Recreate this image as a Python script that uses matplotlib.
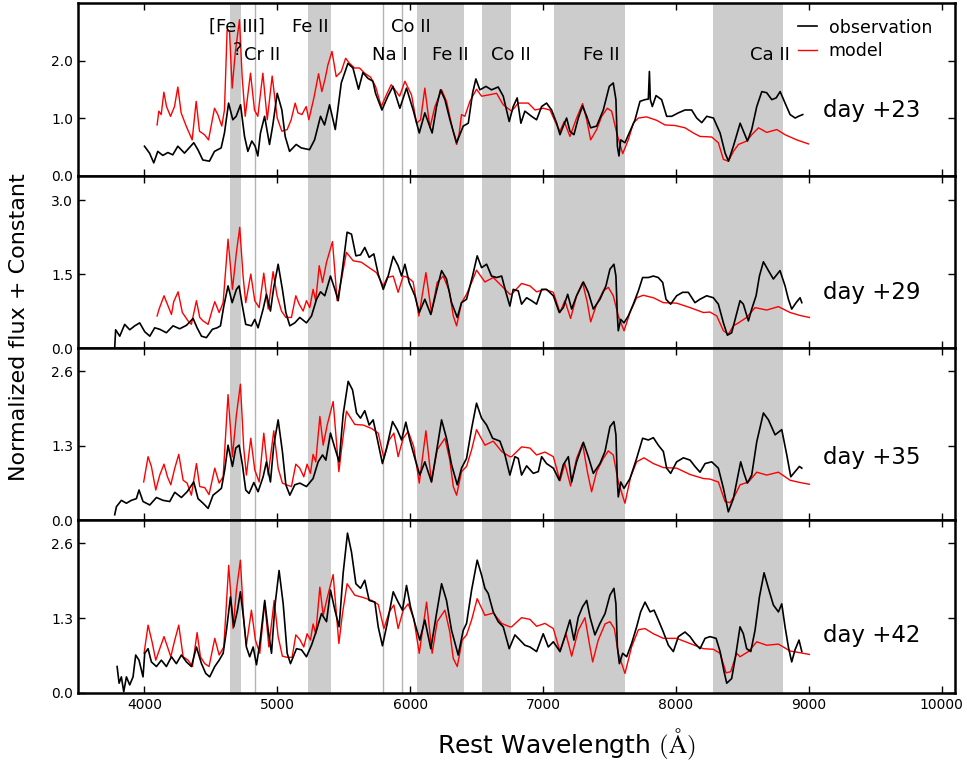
import numpy as np
import matplotlib.pyplot as plt

plt.rcParams['mathtext.fontset'] = 'cm'

# (wavelength [A], normalized flux) pairs for each epoch
obs23 = [(4000, 0.51), (4038, 0.39), (4070, 0.22), (4100, 0.42), (4138, 0.35), (4176, 0.40),
         (4213, 0.36), (4251, 0.51), (4301, 0.39), (4371, 0.57), (4402, 0.45), (4439, 0.27),
         (4489, 0.25), (4527, 0.42), (4577, 0.48), (4602, 0.74), (4633, 1.26), (4665, 0.97),
         (4690, 1.03), (4723, 1.23), (4753, 0.68), (4778, 0.42), (4808, 0.60), (4833, 0.51),
         (4853, 0.34), (4873, 0.74), (4904, 1.03), (4941, 0.54), (4966, 0.88), (4999, 1.43),
         (5034, 1.14), (5059, 0.68), (5092, 0.42), (5142, 0.54), (5180, 0.48), (5242, 0.45),
         (5280, 0.62), (5325, 1.03), (5355, 0.88), (5393, 1.23), (5436, 0.80), (5481, 1.61),
         (5531, 1.95), (5569, 1.87), (5611, 1.50), (5644, 1.79), (5682, 1.69), (5719, 1.64),
         (5739, 1.43), (5787, 1.14), (5832, 1.38), (5870, 1.55), (5922, 1.17), (5972, 1.52),
         (6022, 1.14), (6068, 0.74), (6110, 1.09), (6165, 0.74), (6198, 1.20), (6228, 1.49),
         (6261, 1.32), (6299, 0.97), (6349, 0.57), (6399, 0.86), (6437, 0.91), (6469, 1.43),
         (6494, 1.68), (6524, 1.49), (6570, 1.55), (6612, 1.49), (6662, 1.54), (6700, 1.38),
         (6745, 0.94), (6775, 1.20), (6805, 1.35), (6833, 0.91), (6863, 1.12), (6913, 1.03),
         (6951, 0.97), (6989, 1.20), (7026, 1.26), (7064, 1.14), (7102, 0.91), (7127, 0.71),
         (7152, 0.86), (7177, 1.00), (7202, 0.77), (7232, 0.71), (7265, 1.00), (7297, 1.21),
         (7328, 1.03), (7358, 0.83), (7403, 0.86), (7453, 1.14), (7498, 1.55), (7528, 1.61),
         (7548, 1.32), (7559, 0.51), (7571, 0.34), (7584, 0.62), (7616, 0.57), (7654, 0.77),
         (7692, 0.97), (7729, 1.29), (7767, 1.32), (7792, 1.33), (7800, 1.81), (7807, 1.32),
         (7822, 1.20), (7850, 1.39), (7892, 1.32), (7930, 1.03), (7968, 1.03), (8018, 1.09),
         (8068, 1.14), (8118, 1.14), (8156, 1.00), (8194, 0.92), (8232, 1.03), (8282, 1.00),
         (8332, 0.74), (8370, 0.39), (8395, 0.25), (8432, 0.51), (8483, 0.91), (8513, 0.74),
         (8538, 0.60), (8570, 0.80), (8608, 1.20), (8646, 1.46), (8683, 1.44), (8721, 1.32),
         (8754, 1.35), (8784, 1.46), (8821, 1.26), (8859, 1.06), (8897, 1.00), (8922, 1.03),
         (8954, 1.06)]
mod23 = [(4095, 0.88), (4108, 1.12), (4126, 1.06), (4146, 1.45), (4166, 1.20), (4196, 1.03),
         (4226, 1.20), (4251, 1.54), (4276, 1.09), (4314, 0.86), (4359, 0.62), (4389, 1.29),
         (4414, 0.77), (4452, 0.71), (4482, 0.62), (4527, 1.17), (4552, 1.06), (4582, 0.86),
         (4602, 1.14), (4622, 2.53), (4640, 2.50), (4660, 1.52), (4683, 2.13), (4715, 2.71),
         (4735, 1.72), (4758, 1.03), (4798, 1.78), (4828, 1.14), (4853, 1.03), (4891, 1.78),
         (4924, 0.97), (4961, 1.73), (4999, 1.00), (5034, 0.77), (5074, 0.80), (5104, 0.97),
         (5134, 1.26), (5155, 1.09), (5185, 1.06), (5217, 1.20), (5237, 0.97), (5275, 1.35),
         (5310, 1.77), (5335, 1.46), (5360, 1.69), (5380, 1.92), (5411, 2.16), (5443, 1.72),
         (5481, 1.81), (5514, 2.04), (5544, 1.95), (5581, 1.87), (5619, 1.87), (5657, 1.78),
         (5702, 1.71), (5739, 1.55), (5782, 1.20), (5820, 1.40), (5857, 1.58), (5895, 1.46),
         (5920, 1.38), (5960, 1.64), (6010, 1.40), (6048, 0.91), (6078, 0.97), (6110, 1.52),
         (6148, 0.83), (6186, 1.20), (6236, 1.49), (6273, 1.29), (6319, 0.80), (6349, 0.54),
         (6369, 0.74), (6386, 1.06), (6411, 1.03), (6449, 1.29), (6499, 1.50), (6537, 1.38),
         (6587, 1.40), (6650, 1.43), (6700, 1.23), (6763, 1.12), (6813, 1.26), (6888, 1.26),
         (6939, 1.14), (7001, 1.17), (7052, 1.14), (7102, 0.88), (7127, 0.77), (7159, 0.94),
         (7202, 0.68), (7252, 1.00), (7297, 1.25), (7328, 0.97), (7358, 0.62), (7403, 0.80),
         (7441, 1.03), (7483, 1.17), (7516, 1.12), (7554, 0.74), (7599, 0.38), (7641, 0.62),
         (7679, 0.91), (7717, 1.00), (7779, 1.02), (7855, 0.96), (7917, 0.88), (7993, 0.87),
         (8068, 0.83), (8131, 0.74), (8181, 0.68), (8269, 0.67), (8319, 0.57), (8357, 0.28),
         (8395, 0.25), (8432, 0.42), (8470, 0.54), (8533, 0.60), (8570, 0.71), (8621, 0.83),
         (8683, 0.75), (8759, 0.80), (8821, 0.71), (8909, 0.62), (8997, 0.55)]

obs29 = [(3776, 0.01), (3783, 0.37), (3814, 0.24), (3851, 0.48), (3889, 0.37), (3927, 0.45),
         (3964, 0.51), (4002, 0.33), (4040, 0.24), (4077, 0.41), (4115, 0.38), (4165, 0.31),
         (4215, 0.45), (4265, 0.39), (4316, 0.46), (4366, 0.60), (4396, 0.41), (4429, 0.24),
         (4466, 0.21), (4511, 0.38), (4547, 0.41), (4572, 0.45), (4597, 0.85), (4629, 1.26),
         (4660, 0.92), (4692, 1.19), (4712, 1.26), (4737, 0.85), (4762, 0.48), (4805, 0.45),
         (4830, 0.58), (4855, 0.41), (4893, 0.79), (4918, 1.09), (4948, 0.75), (4973, 1.23),
         (5006, 1.70), (5038, 1.19), (5064, 0.72), (5094, 0.45), (5131, 0.51), (5169, 0.62),
         (5219, 0.51), (5257, 0.65), (5295, 0.99), (5325, 1.14), (5357, 1.06), (5400, 1.46),
         (5433, 1.19), (5458, 0.96), (5490, 1.60), (5525, 2.35), (5558, 2.31), (5591, 1.87),
         (5626, 1.89), (5658, 2.04), (5691, 1.84), (5726, 1.91), (5759, 1.50), (5797, 1.19),
         (5834, 1.46), (5872, 1.86), (5909, 1.67), (5935, 1.46), (5960, 1.70), (5992, 1.33),
         (6035, 1.06), (6068, 0.72), (6110, 0.99), (6155, 0.68), (6198, 1.16), (6236, 1.57),
         (6273, 1.40), (6311, 0.92), (6354, 0.62), (6386, 0.92), (6424, 0.99), (6469, 1.46),
         (6504, 1.87), (6537, 1.63), (6575, 1.70), (6612, 1.46), (6650, 1.43), (6688, 1.46),
         (6720, 1.13), (6750, 0.85), (6775, 1.19), (6813, 1.16), (6838, 0.89), (6876, 1.02),
         (6913, 0.96), (6951, 0.89), (6989, 1.19), (7026, 1.19), (7077, 1.06), (7122, 0.72),
         (7152, 0.82), (7185, 1.09), (7215, 0.79), (7252, 1.06), (7303, 1.34), (7340, 1.13),
         (7378, 0.79), (7428, 0.99), (7473, 1.26), (7503, 1.60), (7533, 1.70), (7548, 1.46),
         (7559, 0.65), (7566, 0.35), (7584, 0.58), (7609, 0.51), (7641, 0.65), (7679, 0.89),
         (7717, 1.16), (7749, 1.43), (7792, 1.43), (7830, 1.46), (7867, 1.43), (7900, 1.33),
         (7925, 0.99), (7960, 0.89), (8005, 1.06), (8050, 1.13), (8093, 1.13), (8143, 0.92),
         (8181, 0.99), (8231, 1.06), (8281, 1.02), (8319, 0.89), (8357, 0.51), (8387, 0.26),
         (8419, 0.31), (8452, 0.65), (8482, 0.96), (8507, 0.89), (8545, 0.55), (8570, 0.79),
         (8603, 1.06), (8628, 1.46), (8658, 1.75), (8696, 1.57), (8733, 1.40), (8783, 1.57),
         (8821, 1.26), (8846, 0.99), (8871, 0.79), (8904, 0.92), (8934, 1.02), (8947, 0.92)]
mod29 = [(4095, 0.65), (4110, 0.79), (4147, 1.06), (4178, 0.85), (4203, 0.68), (4220, 0.94),
         (4253, 1.14), (4285, 0.72), (4328, 0.55), (4353, 0.48), (4391, 0.96), (4416, 0.62),
         (4441, 0.55), (4479, 0.48), (4504, 0.72), (4529, 0.94), (4562, 0.72), (4592, 0.92),
         (4629, 2.21), (4662, 1.19), (4692, 1.94), (4717, 2.45), (4742, 1.46), (4762, 0.92),
         (4800, 1.50), (4830, 0.96), (4863, 0.82), (4898, 1.52), (4931, 0.79), (4968, 1.55),
         (4998, 1.06), (5031, 0.75), (5064, 0.62), (5106, 0.62), (5139, 1.06), (5164, 0.89),
         (5194, 0.75), (5219, 0.96), (5244, 0.82), (5269, 1.19), (5289, 0.96), (5315, 1.67),
         (5340, 1.33), (5370, 1.74), (5415, 2.16), (5450, 0.96), (5483, 1.40), (5520, 1.94),
         (5571, 1.77), (5633, 1.74), (5691, 1.63), (5746, 1.53), (5797, 1.26), (5827, 1.43),
         (5872, 1.46), (5909, 1.13), (5947, 1.46), (5985, 1.43), (6022, 1.34), (6065, 0.65),
         (6118, 1.53), (6160, 0.72), (6203, 1.33), (6248, 1.46), (6294, 1.16), (6324, 0.65),
         (6349, 0.45), (6386, 0.92), (6424, 1.09), (6462, 1.33), (6499, 1.58), (6562, 1.34),
         (6625, 1.43), (6688, 1.26), (6750, 1.09), (6763, 1.09), (6838, 1.31), (6901, 1.26),
         (6951, 1.14), (7014, 1.19), (7077, 1.13), (7127, 0.72), (7164, 0.96), (7207, 0.60),
         (7252, 1.06), (7297, 1.33), (7333, 0.92), (7358, 0.53), (7403, 0.89), (7453, 1.16),
         (7491, 1.23), (7528, 1.06), (7566, 0.65), (7609, 0.35), (7654, 0.72), (7704, 1.02),
         (7754, 1.07), (7830, 1.02), (7905, 0.92), (8005, 0.91), (8106, 0.82), (8206, 0.72),
         (8256, 0.73), (8307, 0.65), (8357, 0.35), (8394, 0.28), (8432, 0.45), (8470, 0.51),
         (8532, 0.62), (8595, 0.82), (8683, 0.77), (8771, 0.84), (8859, 0.72), (8934, 0.66),
         (9004, 0.62)]

obs35 = [(3776, 0.10), (3789, 0.24), (3826, 0.35), (3864, 0.30), (3901, 0.35), (3939, 0.38),
         (3959, 0.53), (3989, 0.33), (4040, 0.27), (4090, 0.40), (4140, 0.35), (4190, 0.33),
         (4228, 0.49), (4278, 0.40), (4321, 0.50), (4371, 0.67), (4403, 0.38), (4441, 0.30),
         (4479, 0.21), (4516, 0.44), (4554, 0.51), (4579, 0.56), (4604, 0.88), (4629, 1.31),
         (4662, 0.94), (4687, 1.26), (4712, 1.31), (4737, 0.97), (4762, 0.53), (4787, 0.47),
         (4823, 0.66), (4855, 0.50), (4893, 0.76), (4918, 1.02), (4948, 0.67), (4973, 1.31),
         (5006, 1.75), (5038, 1.20), (5064, 0.62), (5094, 0.44), (5131, 0.62), (5169, 0.65),
         (5219, 0.59), (5269, 0.73), (5307, 1.02), (5340, 1.14), (5365, 1.05), (5400, 1.52),
         (5433, 1.26), (5465, 1.02), (5495, 1.84), (5533, 2.42), (5566, 2.27), (5596, 1.87),
         (5626, 1.78), (5658, 1.91), (5691, 1.66), (5721, 1.75), (5751, 1.43), (5791, 0.99),
         (5822, 1.26), (5867, 1.72), (5902, 1.58), (5935, 1.40), (5967, 1.71), (5997, 1.40),
         (6035, 1.08), (6072, 0.79), (6110, 1.02), (6160, 0.67), (6198, 1.20), (6236, 1.75),
         (6273, 1.43), (6311, 0.97), (6354, 0.62), (6386, 0.91), (6424, 1.08), (6462, 1.60),
         (6499, 2.04), (6537, 1.78), (6575, 1.66), (6620, 1.43), (6675, 1.38), (6713, 1.14),
         (6750, 0.79), (6788, 1.11), (6813, 1.08), (6838, 0.79), (6876, 0.95), (6926, 0.82),
         (6964, 0.85), (6989, 1.11), (7026, 0.99), (7077, 0.91), (7122, 0.70), (7152, 0.97),
         (7190, 1.11), (7215, 0.67), (7252, 1.02), (7303, 1.36), (7340, 1.11), (7378, 0.82),
         (7428, 0.99), (7466, 1.20), (7503, 1.63), (7533, 1.72), (7548, 1.49), (7559, 0.67),
         (7566, 0.41), (7584, 0.67), (7609, 0.56), (7654, 0.73), (7704, 1.08), (7749, 1.43),
         (7792, 1.40), (7830, 1.44), (7867, 1.31), (7905, 1.20), (7930, 0.91), (7960, 0.82),
         (8005, 1.02), (8056, 1.09), (8106, 1.05), (8143, 0.94), (8181, 0.84), (8219, 0.99),
         (8269, 1.02), (8319, 0.91), (8357, 0.56), (8394, 0.15), (8432, 0.38), (8462, 0.73),
         (8487, 1.02), (8512, 0.82), (8537, 0.65), (8570, 0.79), (8608, 1.37), (8658, 1.87),
         (8696, 1.75), (8746, 1.49), (8796, 1.58), (8834, 1.14), (8864, 0.76), (8896, 0.85),
         (8929, 0.94), (8947, 0.91)]
mod35 = [(3994, 0.67), (4027, 1.11), (4052, 0.94), (4085, 0.53), (4115, 0.79), (4147, 0.98),
         (4173, 0.76), (4198, 0.62), (4228, 0.91), (4258, 1.15), (4291, 0.70), (4321, 0.65),
         (4353, 0.44), (4391, 0.99), (4416, 0.59), (4454, 0.57), (4486, 0.45), (4529, 0.91),
         (4562, 0.65), (4592, 0.76), (4629, 2.19), (4662, 1.11), (4692, 1.84), (4722, 2.37),
         (4747, 1.26), (4767, 0.79), (4800, 1.43), (4830, 0.88), (4863, 0.67), (4898, 1.52),
         (4931, 0.79), (4973, 1.56), (5006, 0.91), (5038, 0.65), (5069, 0.62), (5106, 0.59),
         (5139, 0.98), (5169, 0.91), (5199, 0.76), (5224, 0.98), (5249, 0.82), (5269, 1.15),
         (5289, 1.02), (5320, 1.81), (5345, 1.31), (5375, 1.66), (5420, 2.07), (5463, 0.85),
         (5490, 1.37), (5520, 1.90), (5583, 1.67), (5646, 1.66), (5709, 1.60), (5759, 1.52),
         (5802, 1.08), (5842, 1.40), (5877, 1.52), (5909, 1.11), (5947, 1.43), (5985, 1.55),
         (6027, 1.28), (6068, 0.65), (6118, 1.56), (6160, 0.67), (6203, 1.23), (6261, 1.43),
         (6298, 1.05), (6324, 0.59), (6349, 0.44), (6386, 0.85), (6424, 0.94), (6462, 1.23),
         (6499, 1.58), (6562, 1.31), (6625, 1.38), (6688, 1.20), (6750, 1.11), (6763, 1.11),
         (6838, 1.28), (6901, 1.26), (6951, 1.14), (7014, 1.19), (7077, 1.11), (7127, 0.69),
         (7164, 0.99), (7207, 0.60), (7252, 1.08), (7297, 1.34), (7333, 0.85), (7365, 0.50),
         (7403, 0.85), (7453, 1.08), (7491, 1.21), (7528, 1.14), (7566, 0.67), (7616, 0.30),
         (7659, 0.76), (7704, 1.02), (7759, 1.09), (7830, 0.99), (7905, 0.92), (8005, 0.91),
         (8106, 0.80), (8206, 0.73), (8256, 0.72), (8319, 0.67), (8369, 0.33), (8407, 0.31),
         (8444, 0.44), (8482, 0.62), (8545, 0.67), (8608, 0.84), (8683, 0.79), (8771, 0.84),
         (8859, 0.70), (8934, 0.66), (9004, 0.63)]

obs42 = [(3794, 0.46), (3809, 0.17), (3826, 0.28), (3844, 0.02), (3864, 0.28), (3889, 0.14),
         (3914, 0.28), (3934, 0.66), (3959, 0.57), (3989, 0.28), (4002, 0.69), (4027, 0.77),
         (4052, 0.54), (4090, 0.46), (4127, 0.57), (4165, 0.46), (4203, 0.63), (4240, 0.51),
         (4278, 0.66), (4316, 0.54), (4353, 0.46), (4391, 0.80), (4429, 0.51), (4461, 0.34),
         (4491, 0.28), (4529, 0.46), (4562, 0.57), (4592, 0.69), (4617, 1.09), (4647, 1.67),
         (4672, 1.15), (4700, 1.44), (4722, 1.76), (4747, 1.27), (4767, 0.80), (4792, 0.63),
         (4818, 0.80), (4843, 0.49), (4868, 0.86), (4905, 1.61), (4931, 1.09), (4956, 0.69),
         (4981, 1.50), (5013, 2.13), (5044, 1.55), (5074, 0.69), (5099, 0.51), (5144, 0.77),
         (5182, 0.75), (5219, 0.63), (5257, 0.83), (5295, 1.09), (5332, 1.38), (5370, 1.24),
         (5400, 1.79), (5433, 1.44), (5465, 1.15), (5495, 2.08), (5528, 2.78), (5558, 2.45),
         (5591, 1.90), (5626, 1.82), (5658, 1.96), (5691, 1.61), (5734, 1.58), (5759, 1.15),
         (5791, 0.82), (5827, 1.21), (5872, 1.76), (5909, 1.58), (5942, 1.44), (5972, 1.87),
         (6002, 1.50), (6035, 1.21), (6072, 0.92), (6110, 1.27), (6155, 0.77), (6198, 1.38),
         (6236, 1.90), (6273, 1.61), (6311, 1.09), (6361, 0.66), (6399, 1.09), (6424, 1.21),
         (6462, 1.79), (6504, 2.31), (6537, 2.05), (6562, 1.82), (6587, 1.73), (6625, 1.41),
         (6662, 1.24), (6700, 1.15), (6745, 0.77), (6788, 1.01), (6826, 0.92), (6863, 0.83),
         (6901, 0.80), (6951, 0.72), (7001, 1.03), (7039, 0.80), (7077, 0.89), (7127, 0.72),
         (7164, 0.98), (7202, 1.27), (7232, 0.92), (7265, 1.32), (7297, 1.50), (7328, 1.61),
         (7353, 1.32), (7390, 1.01), (7428, 1.21), (7466, 1.38), (7503, 1.70), (7533, 1.82),
         (7548, 1.55), (7559, 0.80), (7574, 0.51), (7599, 0.69), (7629, 0.63), (7666, 0.86),
         (7704, 1.15), (7734, 1.41), (7767, 1.58), (7805, 1.41), (7835, 1.44), (7867, 1.27),
         (7905, 1.06), (7943, 0.83), (7980, 0.72), (8018, 0.98), (8068, 1.06), (8106, 0.98),
         (8143, 0.86), (8181, 0.77), (8219, 0.95), (8256, 0.98), (8302, 0.95), (8332, 0.72),
         (8362, 0.37), (8382, 0.17), (8419, 0.25), (8452, 0.69), (8482, 1.15), (8507, 1.03),
         (8532, 0.77), (8563, 0.72), (8595, 1.09), (8628, 1.67), (8663, 2.09), (8696, 1.82),
         (8733, 1.53), (8771, 1.41), (8796, 1.55), (8821, 1.15), (8846, 0.80), (8871, 0.54),
         (8896, 0.75), (8926, 0.92), (8947, 0.72)]
mod42 = [(3997, 0.69), (4027, 1.18), (4057, 0.89), (4085, 0.57), (4115, 0.77), (4147, 0.98),
         (4178, 0.77), (4198, 0.63), (4228, 0.92), (4258, 1.18), (4291, 0.63), (4328, 0.57),
         (4361, 0.46), (4396, 1.05), (4421, 0.63), (4454, 0.51), (4486, 0.46), (4529, 0.95),
         (4562, 0.66), (4597, 0.80), (4634, 2.22), (4667, 1.12), (4692, 1.79), (4722, 2.31),
         (4747, 1.27), (4767, 0.83), (4805, 1.44), (4835, 0.92), (4868, 0.69), (4905, 1.58),
         (4936, 0.80), (4976, 1.61), (5006, 0.98), (5038, 0.64), (5074, 0.62), (5111, 0.62),
         (5139, 1.01), (5169, 0.93), (5199, 0.80), (5224, 1.03), (5249, 0.92), (5269, 1.20),
         (5289, 1.03), (5320, 1.84), (5345, 1.35), (5377, 1.67), (5420, 2.06), (5463, 0.86),
         (5490, 1.38), (5525, 1.90), (5583, 1.70), (5646, 1.66), (5709, 1.61), (5759, 1.54),
         (5802, 1.12), (5842, 1.41), (5877, 1.53), (5909, 1.12), (5947, 1.44), (5985, 1.55),
         (6027, 1.29), (6068, 0.69), (6123, 1.58), (6165, 0.69), (6203, 1.24), (6261, 1.44),
         (6298, 1.06), (6324, 0.60), (6354, 0.46), (6391, 0.92), (6424, 1.01), (6462, 1.27),
         (6504, 1.64), (6562, 1.35), (6625, 1.39), (6688, 1.21), (6750, 1.15), (6763, 1.15),
         (6838, 1.31), (6901, 1.28), (6951, 1.16), (7014, 1.21), (7077, 1.12), (7127, 0.72),
         (7172, 1.03), (7215, 0.64), (7265, 1.09), (7315, 1.31), (7348, 0.86), (7373, 0.54),
         (7415, 0.92), (7466, 1.20), (7503, 1.24), (7536, 1.12), (7566, 0.69), (7616, 0.34),
         (7666, 0.80), (7717, 1.10), (7767, 1.12), (7830, 1.03), (7905, 0.95), (8005, 0.95),
         (8106, 0.86), (8206, 0.77), (8281, 0.76), (8332, 0.69), (8377, 0.35), (8412, 0.37),
         (8457, 0.69), (8482, 0.63), (8545, 0.72), (8608, 0.89), (8683, 0.83), (8771, 0.85),
         (8859, 0.73), (8934, 0.70), (9004, 0.67)]

days = ['day +23', 'day +29', 'day +35', 'day +42']
observed = [obs23, obs29, obs35, obs42]
models = [mod23, mod29, mod35, mod42]
ylims = [3.0, 3.5, 3.0, 3.0]
yticks = [[0.0, 1.0, 2.0], [0.0, 1.5, 3.0], [0.0, 1.3, 2.6], [0.0, 1.3, 2.6]]
day_ypos = [0.376, 0.32, 0.366, 0.335]

# shaded line-identification regions and single lines
bands = [(4640, 4725), (5230, 5402), (6052, 6403), (6542, 6758), (7085, 7613), (8278, 8803)]
lines = [4831, 5793, 5941]
ions = [('[Fe III]', 4695, 2.58), ('?', 4702, 2.18), ('Cr II', 4883, 2.10),
        ('Fe II', 5245, 2.58), ('Co II', 6002, 2.58), ('Na I', 5848, 2.10),
        ('Fe II', 6299, 2.10), ('Co II', 6759, 2.10), ('Fe II', 7436, 2.10),
        ('Ca II', 8707, 2.10)]

fig, axes = plt.subplots(4, 1, figsize=(9.67, 7.61), dpi=100, sharex=True)
fig.subplots_adjust(left=0.0807, right=0.9876, top=0.996, bottom=0.0894, hspace=0)

for i, ax in enumerate(axes):
    for lo, hi in bands:
        ax.axvspan(lo, hi, color='#cccccc', lw=0, zorder=0)
    for wl in lines:
        ax.axvline(wl, color='#b4b4b4', lw=1, zorder=0)
    ow, of = zip(*observed[i])
    mw, mf = zip(*models[i])
    ax.plot(ow, of, color='k', lw=1.2, label='observation', zorder=3)
    ax.plot(mw, mf, color='r', lw=1.0, label='model', zorder=2)
    ax.text(0.849, day_ypos[i], days[i], transform=ax.transAxes, fontsize=16.5,
            va='center', ha='left')
    ax.set_xlim(3500, 10100)
    ax.set_ylim(0, ylims[i])
    ax.set_yticks(yticks[i])
    ax.set_yticklabels(['%.1f' % t for t in yticks[i]])
    ax.set_xticks(np.arange(4000, 10001, 1000))
    ax.tick_params(direction='in', top=True, right=True, length=5, width=1, labelsize=10)
    for s in ax.spines.values():
        s.set_linewidth(1.8)

for name, wl, y in ions:
    axes[0].text(wl, y, name, fontsize=13, ha='center', va='center')

axes[0].legend(loc='upper right', bbox_to_anchor=(0.974, 0.91), frameon=False,
               fontsize=12.5, handlelength=1.1, handletextpad=0.7,
               borderpad=0, borderaxespad=0, labelspacing=0.3)

fig.text(0.586, 0.022, r'Rest Wavelength $(\mathrm{\AA})$', fontsize=18,
         ha='center', va='center')
fig.text(0.02, 0.57, 'Normalized flux + Constant', rotation=90, fontsize=16,
         va='center', ha='center')

plt.savefig('out.png', dpi=100)
